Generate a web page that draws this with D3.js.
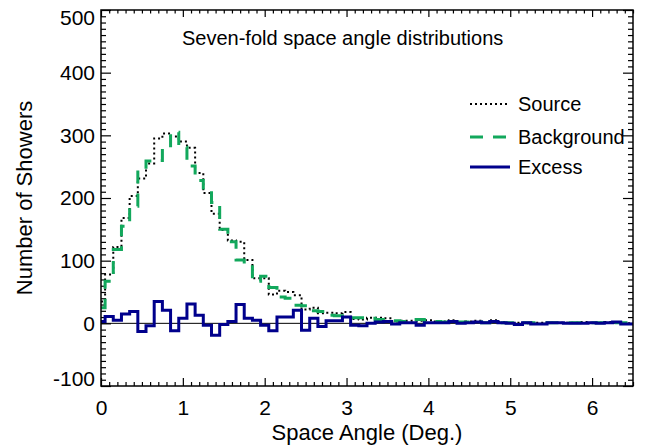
<!DOCTYPE html>
<html>
<head>
<meta charset="utf-8">
<script src="https://cdn.jsdelivr.net/npm/d3@7"></script>
<style>
  body { margin: 0; background: #fff; }
  text { font-family: "Liberation Sans", Arial, Helvetica, sans-serif; fill: #000; }
  .axis line { stroke: #000; stroke-width: 1.2; }
  .axis text { font-size: 21px; }
</style>
</head>
<body>
<div id="chart"></div>
<script>
var width = 648, height = 448;
var margin = {left: 101, right: 15, top: 10, bottom: 62};

// space angle bins (deg), centres every 0.1
var angles = d3.range(0, 66).map(function(i){ return +(i / 10).toFixed(1); });

var source = [35, 78, 122, 168, 203, 231, 255, 295, 303, 298,
  290, 280, 240, 208, 175, 149, 132, 130, 101, 72,
  72, 46, 52, 50, 45, 22, 25, 16, 17, 16,
  18, 7, 6, 9, 9, 8, 3, 4, 4, 4,
  5, 3, 3, 5, 2, 3, 4, 1, 5, 2,
  1, 1, 0, 1, 1, 1, 1, 1, 1, 2,
  1, 1, 2, 2, 0, 0];

var background = [25, 67, 118, 155, 187, 245, 259, 260, 280, 305,
  281, 251, 228, 213, 193, 150, 130, 101, 93, 67,
  75, 57, 42, 40, 29, 28, 20, 19, 13, 12,
  10, 9, 9, 8, 6, 5, 4, 3, 3, 6,
  4, 3, 2, 3, 2, 2, 2, 1, 2, 1,
  1, 2, 1, 1, 1, 1, 1, 1, 1, 1,
  1, 1, 1, 1, 1, 1];

var excess = [3, 11, 5, 15, 19, -13, -4, 35, 21, -12,
  8, 31, 13, -3, -19, -2, 3, 30, 8, 5,
  -3, -12, 10, 10, 21, -11, 8, -5, 4, 4,
  10, -3, -4, 0, 2, 3, -1, 1, 1, -3,
  1, 1, 1, 3, 0, 1, 2, 1, 3, 1,
  0, -2, 1, -1, -1, 1, 1, 0, 0, 0,
  1, 0, 1, 2, -1, -1];

var xTicks = [0, 1, 2, 3, 4, 5, 6];
var yTicks = [-100, 0, 100, 200, 300, 400, 500];

var seriesNames = ['Source', 'Background', 'Excess'];
var seriesColors = ['#000000', '#12a85c', '#00008c'];
var seriesDash = ['2,3', '13,10', null];
var seriesWidth = [2, 3, 3];

var w = width - margin.left - margin.right;
var h = height - margin.top - margin.bottom;

var svg = d3.select('#chart').append('svg')
  .attr('width', width)
  .attr('height', height);

var g = svg.append('g')
  .attr('transform', 'translate(' + margin.left + ',' + margin.top + ')');

var xScale = d3.scaleLinear().domain([0, 6.5]).range([0, w]);
var yScale = d3.scaleLinear().domain([-100, 500]).range([h, 0]);

// minor ticks
var xMinor = d3.range(0, 66).map(function(i){ return i / 10; }).filter(function(v){ return Math.abs(v - Math.round(v)) > 1e-6; });
var yMinor = d3.range(-100, 501, 10).filter(function(v){ return v % 100 !== 0; });

function noDomain(sel) { sel.select('.domain').remove(); }
function plain(d) { return String(d); }   // hyphen minus like the original

g.append('g').attr('class', 'axis')
  .attr('transform', 'translate(0,' + h + ')')
  .call(d3.axisBottom(xScale).tickValues(xTicks).tickFormat(plain).tickSizeInner(-8).tickSizeOuter(0).tickPadding(14))
  .call(noDomain);
g.append('g').attr('class', 'axis')
  .attr('transform', 'translate(0,' + h + ')')
  .call(d3.axisBottom(xScale).tickValues(xMinor).tickFormat('').tickSizeInner(-4).tickSizeOuter(0))
  .call(noDomain);
g.append('g').attr('class', 'axis')
  .call(d3.axisTop(xScale).tickValues(xTicks).tickFormat('').tickSizeInner(-7).tickSizeOuter(0))
  .call(noDomain);
g.append('g').attr('class', 'axis')
  .call(d3.axisTop(xScale).tickValues(xMinor).tickFormat('').tickSizeInner(-3.5).tickSizeOuter(0))
  .call(noDomain);

var yAxisG = g.append('g').attr('class', 'axis')
  .call(d3.axisLeft(yScale).tickValues(yTicks).tickFormat(plain).tickSizeInner(-10).tickSizeOuter(0).tickPadding(6))
  .call(noDomain);
// keep end labels inside the frame height, as the original does
yAxisG.selectAll('.tick text')
  .attr('dy', function(d){ return d === 500 ? '0.7em' : (d === -100 ? '-0.02em' : '0.32em'); });

g.append('g').attr('class', 'axis')
  .call(d3.axisLeft(yScale).tickValues(yMinor).tickFormat('').tickSizeInner(-5).tickSizeOuter(0))
  .call(noDomain);
g.append('g').attr('class', 'axis')
  .attr('transform', 'translate(' + w + ',0)')
  .call(d3.axisRight(yScale).tickValues(yTicks).tickFormat('').tickSizeInner(-10).tickSizeOuter(0))
  .call(noDomain);
g.append('g').attr('class', 'axis')
  .attr('transform', 'translate(' + w + ',0)')
  .call(d3.axisRight(yScale).tickValues(yMinor).tickFormat('').tickSizeInner(-5).tickSizeOuter(0))
  .call(noDomain);

// zero line
g.append('line')
  .attr('x1', 0).attr('x2', w)
  .attr('y1', yScale(0)).attr('y2', yScale(0))
  .attr('stroke', '#000').attr('stroke-width', 1);

// histograms (steps at bin midpoints)
var step = d3.line()
  .x(function(d){ return xScale(d[0]); })
  .y(function(d){ return yScale(d[1]); })
  .curve(d3.curveStep);

[source, background, excess].forEach(function(vals, i) {
  var pts = angles.map(function(a, j){ return [a, vals[j]]; });
  g.append('path')
    .datum(pts)
    .attr('d', step)
    .attr('fill', 'none')
    .attr('stroke', seriesColors[i])
    .attr('stroke-width', seriesWidth[i])
    .attr('stroke-dasharray', seriesDash[i]);
});

// frame
g.append('rect')
  .attr('width', w).attr('height', h)
  .attr('fill', 'none').attr('stroke', '#000').attr('stroke-width', 1.5);

// title inside plot
svg.append('text')
  .attr('x', 182).attr('y', 45)
  .style('font-size', '20px')
  .text('Seven-fold space angle distributions');

// legend
var legend = svg.append('g');
var legY = [104, 137, 167];
seriesNames.forEach(function(name, i) {
  legend.append('line')
    .attr('x1', 470).attr('x2', 510)
    .attr('y1', legY[i]).attr('y2', legY[i])
    .attr('stroke', seriesColors[i])
    .attr('stroke-width', seriesWidth[i])
    .attr('stroke-dasharray', seriesDash[i]);
  legend.append('text')
    .attr('x', 518).attr('y', legY[i] + 5)
    .attr('dy', '0.12em')
    .style('font-size', '20px')
    .text(name);
});

// axis titles
svg.append('text')
  .attr('x', margin.left + w / 2).attr('y', 440)
  .attr('text-anchor', 'middle')
  .style('font-size', '22px')
  .text('Space Angle (Deg.)');

svg.append('text')
  .attr('transform', 'translate(32,' + (margin.top + yScale(200)) + ') rotate(-90)')
  .attr('text-anchor', 'middle')
  .style('font-size', '22px')
  .text('Number of Showers');
</script>
</body>
</html>
